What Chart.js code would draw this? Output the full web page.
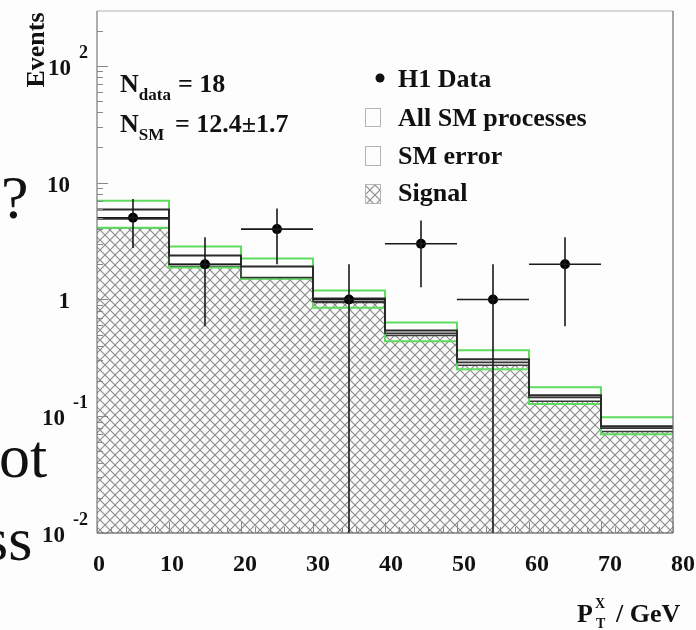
<!DOCTYPE html>
<html>
<head>
<meta charset="utf-8">
<script src="https://cdn.jsdelivr.net/npm/chart.js@4.4.0/dist/chart.umd.min.js"></script>
<style>
html, body { margin: 0; padding: 0; background: #fdfdfd; }
#wrap { position: relative; width: 696px; height: 630px; }
</style>
</head>
<body>
<div id="wrap"><canvas id="myChart" width="696" height="630"></canvas></div>
<script>
// histogram bins (GeV)
var binEdges = [0, 10, 20, 30, 40, 50, 60, 70, 80];

// SM prediction per bin
var smErrUp   = [7.0, 2.84, 2.24, 1.19, 0.636, 0.367, 0.177, 0.098];
var smTotal   = [5.9, 2.38, 1.91, 1.02, 0.543, 0.307, 0.151, 0.082];
var smLower   = [4.9, 1.99, 1.54, 0.96, 0.512, 0.289, 0.145, 0.079];
var smErrDown = [4.1, 1.88, 1.50, 0.85, 0.438, 0.252, 0.127, 0.070];
var signal    = [4.1, 1.91, 1.51, 0.94, 0.492, 0.273, 0.134, 0.074];

// H1 data points
var dataX       = [5, 15, 25, 35, 45, 55, 65];
var dataY       = [5, 2, 4, 1, 3, 1, 2];
var dataErrUp   = [2.24, 1.41, 2.0, 1.0, 1.73, 1.0, 1.41];
var dataErrDown = [2.24, 1.41, 2.0, 1.0, 1.73, 1.0, 1.41];
var dataXErr    = [5, 5, 5, 5, 5, 5, 5];

// axis ticks
var xTickVals = [0, 10, 20, 30, 40, 50, 60, 70, 80];
var yTickVals = [100, 10, 1, 0.1, 0.01];
var yTickBase = ['10', '10', '1', '10', '10'];
var yTickExp  = ['2', '', '', '-1', '-2'];

var legendLabels = ['H1 Data', 'All SM processes', 'SM error', 'Signal'];

var SERIF = '"Liberation Serif", "Times New Roman", serif';

function stepPoints(vals) {
    var pts = [];
    for (var i = 0; i < vals.length; i++) {
        pts.push({x: binEdges[i], y: vals[i]});
    }
    pts.push({x: binEdges[vals.length], y: vals[vals.length - 1]});
    return pts;
}

function makeHatch() {
    var c = document.createElement('canvas');
    c.width = 10; c.height = 10;
    var g = c.getContext('2d');
    g.fillStyle = '#fbfbfb';
    g.fillRect(0, 0, 10, 10);
    g.strokeStyle = '#8a8a8a';
    g.lineWidth = 1.1;
    g.beginPath();
    g.moveTo(-1, -1); g.lineTo(11, 11);
    g.moveTo(-1, 11); g.lineTo(11, -1);
    g.stroke();
    return g.createPattern(c, 'repeat');
}
var hatch = makeHatch();

function txt(ctx, s, x, y, size, align, base) {
    ctx.font = 'bold ' + size + 'px ' + SERIF;
    ctx.textAlign = align || 'left';
    ctx.textBaseline = base || 'alphabetic';
    ctx.fillText(s, x, y);
    return ctx.measureText(s).width;
}

var decor = {
    id: 'decor',
    beforeDraw: function(chart) {
        var ctx = chart.ctx;
        ctx.save();
        ctx.fillStyle = '#fdfdfd';
        ctx.fillRect(0, 0, chart.width, chart.height);
        // leftovers of the slide behind the plot
        ctx.fillStyle = '#111';
        ctx.font = '62px ' + SERIF;
        ctx.textAlign = 'left';
        ctx.textBaseline = 'alphabetic';
        ctx.fillText('?', 1, 218);
        ctx.fillText('ot', -1, 477);
        ctx.fillText('ss', -16, 560);
        ctx.restore();
    },
    afterDatasetsDraw: function(chart) {
        var ctx = chart.ctx, xs = chart.scales.x, ys = chart.scales.y, a = chart.chartArea;
        ctx.save();
        ctx.beginPath();
        ctx.rect(a.left, a.top, a.right - a.left, a.bottom - a.top);
        ctx.clip();
        ctx.strokeStyle = '#1a1a1a';
        ctx.lineWidth = 1.6;
        for (var i = 0; i < dataX.length; i++) {
            var px = xs.getPixelForValue(dataX[i]);
            var py = ys.getPixelForValue(dataY[i]);
            var lo = dataY[i] - dataErrDown[i];
            var pyLo = lo > ys.min ? ys.getPixelForValue(lo) : a.bottom;
            var pyHi = ys.getPixelForValue(dataY[i] + dataErrUp[i]);
            ctx.beginPath();
            ctx.moveTo(px, pyHi); ctx.lineTo(px, pyLo);
            ctx.moveTo(xs.getPixelForValue(dataX[i] - dataXErr[i]), py);
            ctx.lineTo(xs.getPixelForValue(dataX[i] + dataXErr[i]), py);
            ctx.stroke();
        }
        ctx.restore();
    },
    afterDraw: function(chart) {
        var ctx = chart.ctx, xs = chart.scales.x, ys = chart.scales.y, a = chart.chartArea;
        ctx.save();
        // frame
        ctx.lineWidth = 1.2;
        ctx.strokeStyle = '#b0b0b0';
        ctx.beginPath(); ctx.moveTo(a.left, a.top); ctx.lineTo(a.right, a.top); ctx.stroke();
        ctx.strokeStyle = '#6a6a6a';
        ctx.beginPath(); ctx.moveTo(a.right, a.top); ctx.lineTo(a.right, a.bottom); ctx.stroke();
        ctx.strokeStyle = '#7a7a7a';
        ctx.beginPath(); ctx.moveTo(a.left, a.top); ctx.lineTo(a.left, a.bottom); ctx.stroke();
        ctx.strokeStyle = '#444';
        ctx.beginPath(); ctx.moveTo(a.left, a.bottom); ctx.lineTo(a.right, a.bottom); ctx.stroke();

        // y ticks inside the frame
        ctx.strokeStyle = '#888';
        ctx.lineWidth = 1;
        ctx.beginPath();
        for (var d = 0.01; d < 1000; d *= 10) {
            for (var m = 1; m < 10; m++) {
                var v = d * m;
                if (v < ys.min || v > ys.max) continue;
                var yp = Math.round(ys.getPixelForValue(v)) + 0.5;
                ctx.moveTo(a.left, yp);
                ctx.lineTo(a.left + (m === 1 ? 11 : 6), yp);
            }
        }
        ctx.stroke();
        // x ticks
        ctx.beginPath();
        for (var t = 0; t <= 80; t += 2) {
            var xp = Math.round(xs.getPixelForValue(t)) + 0.5;
            ctx.moveTo(xp, a.bottom);
            ctx.lineTo(xp, a.bottom - (t % 10 === 0 ? 11 : 6));
        }
        ctx.stroke();

        ctx.fillStyle = '#111';
        // y tick labels
        for (var k = 0; k < yTickVals.length; k++) {
            var ty = ys.getPixelForValue(yTickVals[k]) + 3;
            if (yTickExp[k]) {
                var ew = txt(ctx, yTickExp[k], 88, ty - 16, 18, 'right', 'middle');
                txt(ctx, yTickBase[k], 88 - ew - 8, ty, 23, 'right', 'middle');
            } else {
                txt(ctx, yTickBase[k], 70, ty, 23, 'right', 'middle');
            }
        }
        // x tick labels (the printed labels sit slightly wider than the ticks)
        for (var j = 0; j < xTickVals.length; j++) {
            var lxp = xs.getPixelForValue(xTickVals[j]) + 2 + xTickVals[j] * 0.1;
            txt(ctx, String(xTickVals[j]), lxp, 565, 24, 'center', 'middle');
        }
        // x title  P_T^X / GeV
        txt(ctx, 'P', 577, 622, 26);
        txt(ctx, 'X', 595, 608, 14);
        txt(ctx, 'T', 596, 628, 14);
        txt(ctx, '/ GeV', 616, 622, 26);

        // y title
        ctx.save();
        ctx.translate(44, 50);
        ctx.rotate(-Math.PI / 2);
        txt(ctx, 'Events', 0, 0, 26, 'center', 'alphabetic');
        ctx.restore();

        // numbers in the corner
        var w = txt(ctx, 'N', 120, 92, 26);
        txt(ctx, 'data', 120 + w, 100, 17);
        txt(ctx, '= 18', 178, 92, 26);
        w = txt(ctx, 'N', 120, 132, 26);
        txt(ctx, 'SM', 120 + w, 140, 17);
        txt(ctx, '= 12.4\u00b11.7', 175, 132, 26);

        // legend
        var lx = 398, ly = [87, 126, 164, 201];
        ctx.beginPath();
        ctx.arc(380, 78, 4.5, 0, Math.PI * 2);
        ctx.fill();
        ctx.strokeStyle = '#b5b5b5';
        ctx.lineWidth = 1;
        ctx.strokeRect(365.5, 108.5, 15, 18);
        ctx.strokeRect(365.5, 146.5, 15, 19);
        ctx.fillStyle = hatch;
        ctx.fillRect(365.5, 184.5, 15, 19);
        ctx.strokeRect(365.5, 184.5, 15, 19);
        ctx.fillStyle = '#111';
        for (var n = 0; n < legendLabels.length; n++) {
            txt(ctx, legendLabels[n], lx, ly[n], 26);
        }
        ctx.restore();
    }
};

function stepSet(vals, color, width, extra) {
    var ds = {
        type: 'line',
        data: stepPoints(vals),
        stepped: 'before',
        borderColor: color,
        borderWidth: width,
        pointRadius: 0,
        fill: false
    };
    for (var key in extra) ds[key] = extra[key];
    return ds;
}

var ctx = document.getElementById('myChart').getContext('2d');
var myChart = new Chart(ctx, {
    data: {
        datasets: [
            {
                type: 'scatter',
                label: legendLabels[0],
                data: dataX.map(function(x, i) { return {x: x, y: dataY[i]}; }),
                pointRadius: 5,
                pointBackgroundColor: '#000',
                pointBorderWidth: 0
            },
            stepSet(smTotal, '#2a2a2a', 2, {label: legendLabels[1]}),
            stepSet(smLower, '#333', 1.6, {}),
            stepSet(smErrUp, '#5edc5e', 2, {label: legendLabels[2]}),
            stepSet(smErrDown, '#5edc5e', 2, {}),
            stepSet(signal, '#3a3a3a', 1.5, {label: legendLabels[3], backgroundColor: hatch, fill: 'start'})
        ]
    },
    options: {
        responsive: false,
        animation: false,
        devicePixelRatio: 1,
        events: [],
        layout: { padding: { left: 97, right: 23, top: 11, bottom: 97 } },
        plugins: { legend: { display: false }, tooltip: { enabled: false } },
        scales: {
            x: { type: 'linear', min: 0, max: 80, display: false },
            y: { type: 'logarithmic', min: 0.01, max: 295, display: false }
        }
    },
    plugins: [decor]
});
</script>
</body>
</html>
